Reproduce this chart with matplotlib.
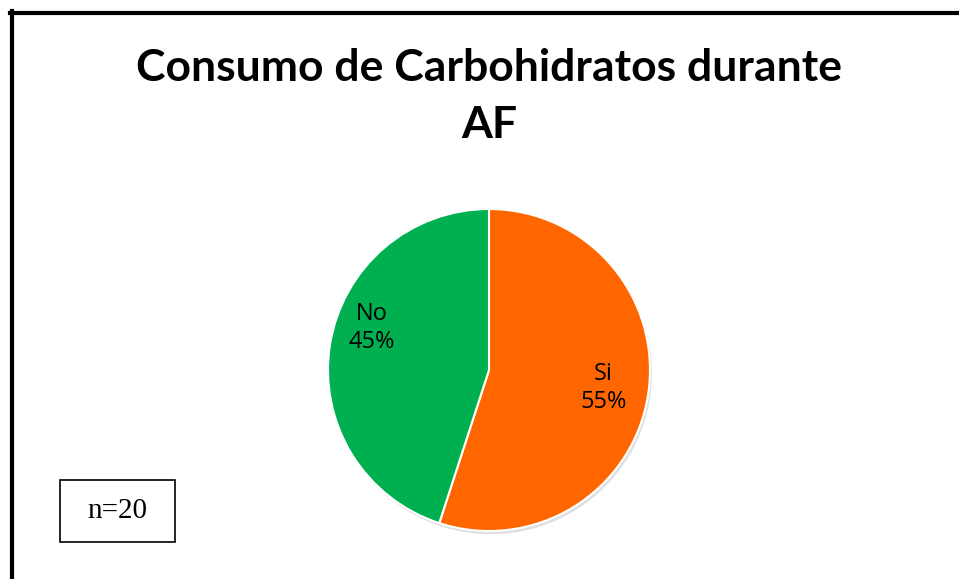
import matplotlib
matplotlib.use("Agg")
import matplotlib.pyplot as plt
from matplotlib.patches import Rectangle, Circle

categories = ["Si", "No"]
values = [55, 45]
colors = ["#FF6600", "#00B050"]
title_lines = ["Consumo de Carbohidratos durante", "AF"]
note = "n=20"

W, H = 959, 579
fig = plt.figure(figsize=(W / 100, H / 100), dpi=100)
fig.patch.set_facecolor("white")

# frame (top and left only visible)
fig.add_artist(plt.Line2D([10 / W, 1], [1 - 12.5 / H, 1 - 12.5 / H], color="black", lw=3, transform=fig.transFigure))
fig.add_artist(plt.Line2D([11.5 / W, 11.5 / W], [0, 1 - 11 / H], color="black", lw=3, transform=fig.transFigure))

for i, line in enumerate(title_lines):
    fig.text(489 / W, 1 - (68 + 57 * i) / H, line, ha="center", va="center", fontsize=32,
             fontweight="bold", family="Lato")

cx, cy, r = 489, 370, 161
ax = fig.add_axes([(cx - r * 1.02) / W, 1 - (cy + r * 1.02) / H, 2 * r * 1.02 / W, 2 * r * 1.02 / H])
# subtle shadow
ax.add_patch(Circle((0.012, -0.02), 1.0, color="#000000", alpha=0.12, lw=0, zorder=0))
wedges, texts = ax.pie(values, colors=colors, startangle=90, counterclock=False,
                       labels=[f"{c}\n{v}%" for c, v in zip(categories, values)],
                       labeldistance=0.72,
                       wedgeprops=dict(edgecolor="white", linewidth=1.5),
                       textprops=dict(fontsize=17, family="Open Sans", ha="center", va="center",
                                      linespacing=1.25))
for w in wedges:
    w.set_zorder(2)
texts[1].set_position((-0.73, 0.26))
ax.set_xlim(-1.02, 1.02)
ax.set_ylim(-1.02, 1.02)
ax.axis("off")

fig.add_artist(Rectangle((60 / W, 1 - 542 / H), 115 / W, 62 / H, transform=fig.transFigure,
                         facecolor="white", edgecolor="black", lw=1.2))
fig.text(117.5 / W, 1 - 511 / H, note, ha="center", va="center", fontsize=21, family="Liberation Serif")

fig.savefig("out.png", dpi=100)
